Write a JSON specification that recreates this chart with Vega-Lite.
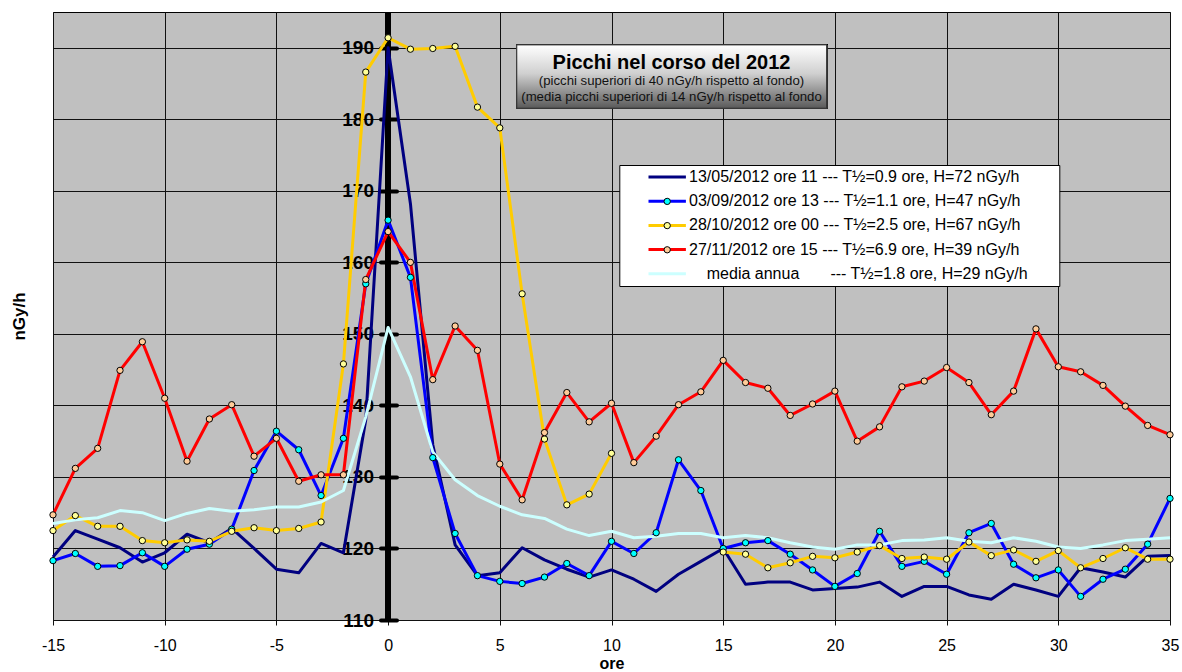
{
  "$schema": "https://vega.github.io/schema/vega-lite/v6.json",
  "autosize": {"type": "none"},
  "padding": {"left": 53, "top": 12, "right": 12, "bottom": 52},
  "width": 1117,
  "height": 608,
  "background": "#ffffff",
  "config": {
    "font": "Liberation Sans",
    "view": {"fill": "#C0C0C0", "stroke": "#000000", "strokeWidth": 1}
  },
  "title": {
    "text": "Picchi nel corso del 2012",
    "subtitle": ["(picchi superiori di 40 nGy/h rispetto al fondo)", "(media picchi superiori di 14 nGy/h rispetto al fondo"],
    "frame": "group",
    "anchor": "middle",
    "dx": 60,
    "offset": -93.5,
    "zindex": 1,
    "font": "Liberation Sans",
    "fontSize": 20,
    "fontWeight": "bold",
    "color": "#000000",
    "subtitleFont": "Liberation Sans",
    "subtitleFontSize": 13.2,
    "subtitleColor": "#111111",
    "subtitlePadding": 2,
    "subtitleLineHeight": 15.9
  },
  "data": {"values": [
    {"serie":"A","ora":-15,"nGy":118.8},{"serie":"A","ora":-14,"nGy":122.5},{"serie":"A","ora":-13,"nGy":121.3},{"serie":"A","ora":-12,"nGy":120.1},{"serie":"A","ora":-11,"nGy":118.1},{"serie":"A","ora":-10,"nGy":119.4},{"serie":"A","ora":-9,"nGy":122.0},{"serie":"A","ora":-8,"nGy":120.8},{"serie":"A","ora":-7,"nGy":122.8},{"serie":"A","ora":-6,"nGy":120.0},{"serie":"A","ora":-5,"nGy":117.1},{"serie":"A","ora":-4,"nGy":116.6},{"serie":"A","ora":-3,"nGy":120.7},{"serie":"A","ora":-2,"nGy":119.4},{"serie":"A","ora":-1,"nGy":138.0},
    {"serie":"A","ora":0,"nGy":190.0},{"serie":"A","ora":1,"nGy":168.2},{"serie":"A","ora":2,"nGy":134.5},{"serie":"A","ora":3,"nGy":120.5},{"serie":"A","ora":4,"nGy":116.2},{"serie":"A","ora":5,"nGy":116.6},{"serie":"A","ora":6,"nGy":120.1},{"serie":"A","ora":7,"nGy":118.4},{"serie":"A","ora":8,"nGy":117.1},{"serie":"A","ora":9,"nGy":116.0},{"serie":"A","ora":10,"nGy":117.0},
    {"serie":"A","ora":11,"nGy":115.7},{"serie":"A","ora":12,"nGy":114.0},{"serie":"A","ora":13,"nGy":116.4},{"serie":"A","ora":14,"nGy":118.2},{"serie":"A","ora":15,"nGy":120.0},{"serie":"A","ora":16,"nGy":115.0},{"serie":"A","ora":17,"nGy":115.3},{"serie":"A","ora":18,"nGy":115.3},{"serie":"A","ora":19,"nGy":114.2},{"serie":"A","ora":20,"nGy":114.4},
    {"serie":"A","ora":21,"nGy":114.6},{"serie":"A","ora":22,"nGy":115.3},{"serie":"A","ora":23,"nGy":113.3},{"serie":"A","ora":24,"nGy":114.7},{"serie":"A","ora":25,"nGy":114.7},{"serie":"A","ora":26,"nGy":113.5},{"serie":"A","ora":27,"nGy":112.9},{"serie":"A","ora":28,"nGy":115.0},{"serie":"A","ora":29,"nGy":114.2},{"serie":"A","ora":30,"nGy":113.3},
    {"serie":"A","ora":31,"nGy":117.3},{"serie":"A","ora":32,"nGy":116.7},{"serie":"A","ora":33,"nGy":116.0},{"serie":"A","ora":34,"nGy":118.9},{"serie":"A","ora":35,"nGy":119.0},

    {"serie":"B","ora":-15,"nGy":118.3},{"serie":"B","ora":-14,"nGy":119.3},{"serie":"B","ora":-13,"nGy":117.5},{"serie":"B","ora":-12,"nGy":117.6},{"serie":"B","ora":-11,"nGy":119.4},{"serie":"B","ora":-10,"nGy":117.5},{"serie":"B","ora":-9,"nGy":119.9},{"serie":"B","ora":-8,"nGy":120.6},{"serie":"B","ora":-7,"nGy":122.7},{"serie":"B","ora":-6,"nGy":130.9},{"serie":"B","ora":-5,"nGy":136.4},{"serie":"B","ora":-4,"nGy":133.8},{"serie":"B","ora":-3,"nGy":127.4},{"serie":"B","ora":-2,"nGy":135.4},{"serie":"B","ora":-1,"nGy":157.0},
    {"serie":"B","ora":0,"nGy":165.9},{"serie":"B","ora":1,"nGy":157.9},{"serie":"B","ora":2,"nGy":132.7},{"serie":"B","ora":3,"nGy":122.1},{"serie":"B","ora":4,"nGy":116.2},{"serie":"B","ora":5,"nGy":115.4},{"serie":"B","ora":6,"nGy":115.1},{"serie":"B","ora":7,"nGy":116.0},{"serie":"B","ora":8,"nGy":117.9},{"serie":"B","ora":9,"nGy":116.2},{"serie":"B","ora":10,"nGy":121.0},
    {"serie":"B","ora":11,"nGy":119.3},{"serie":"B","ora":12,"nGy":122.2},{"serie":"B","ora":13,"nGy":132.4},{"serie":"B","ora":14,"nGy":128.1},{"serie":"B","ora":15,"nGy":120.0},{"serie":"B","ora":16,"nGy":120.8},{"serie":"B","ora":17,"nGy":121.1},{"serie":"B","ora":18,"nGy":119.2},{"serie":"B","ora":19,"nGy":117.0},{"serie":"B","ora":20,"nGy":114.7},
    {"serie":"B","ora":21,"nGy":116.5},{"serie":"B","ora":22,"nGy":122.4},{"serie":"B","ora":23,"nGy":117.5},{"serie":"B","ora":24,"nGy":118.2},{"serie":"B","ora":25,"nGy":116.4},{"serie":"B","ora":26,"nGy":122.2},{"serie":"B","ora":27,"nGy":123.5},{"serie":"B","ora":28,"nGy":117.8},{"serie":"B","ora":29,"nGy":115.9},{"serie":"B","ora":30,"nGy":117.0},
    {"serie":"B","ora":31,"nGy":113.3},{"serie":"B","ora":32,"nGy":115.7},{"serie":"B","ora":33,"nGy":117.1},{"serie":"B","ora":34,"nGy":120.6},{"serie":"B","ora":35,"nGy":127.0},

    {"serie":"C","ora":-15,"nGy":122.5},{"serie":"C","ora":-14,"nGy":124.6},{"serie":"C","ora":-13,"nGy":123.1},{"serie":"C","ora":-12,"nGy":123.1},{"serie":"C","ora":-11,"nGy":121.1},{"serie":"C","ora":-10,"nGy":120.8},{"serie":"C","ora":-9,"nGy":121.2},{"serie":"C","ora":-8,"nGy":121.0},{"serie":"C","ora":-7,"nGy":122.4},{"serie":"C","ora":-6,"nGy":122.9},{"serie":"C","ora":-5,"nGy":122.5},{"serie":"C","ora":-4,"nGy":122.8},{"serie":"C","ora":-3,"nGy":123.7},{"serie":"C","ora":-2,"nGy":145.8},{"serie":"C","ora":-1,"nGy":186.6},
    {"serie":"C","ora":0,"nGy":191.4},{"serie":"C","ora":1,"nGy":189.8},{"serie":"C","ora":2,"nGy":189.9},{"serie":"C","ora":3,"nGy":190.2},{"serie":"C","ora":4,"nGy":181.7},{"serie":"C","ora":5,"nGy":178.8},{"serie":"C","ora":6,"nGy":155.6},{"serie":"C","ora":7,"nGy":135.3},{"serie":"C","ora":8,"nGy":126.1},{"serie":"C","ora":9,"nGy":127.6},{"serie":"C","ora":10,"nGy":133.3},
    {"serie":"C","ora":11,"nGy":null},{"serie":"C","ora":12,"nGy":null},{"serie":"C","ora":13,"nGy":null},{"serie":"C","ora":14,"nGy":null},{"serie":"C","ora":15,"nGy":119.5},{"serie":"C","ora":16,"nGy":119.2},{"serie":"C","ora":17,"nGy":117.3},{"serie":"C","ora":18,"nGy":118.0},{"serie":"C","ora":19,"nGy":118.9},{"serie":"C","ora":20,"nGy":118.7},
    {"serie":"C","ora":21,"nGy":119.5},{"serie":"C","ora":22,"nGy":120.4},{"serie":"C","ora":23,"nGy":118.6},{"serie":"C","ora":24,"nGy":118.8},{"serie":"C","ora":25,"nGy":118.5},{"serie":"C","ora":26,"nGy":120.9},{"serie":"C","ora":27,"nGy":119.0},{"serie":"C","ora":28,"nGy":119.8},{"serie":"C","ora":29,"nGy":118.2},{"serie":"C","ora":30,"nGy":119.7},
    {"serie":"C","ora":31,"nGy":117.3},{"serie":"C","ora":32,"nGy":118.6},{"serie":"C","ora":33,"nGy":120.1},{"serie":"C","ora":34,"nGy":118.5},{"serie":"C","ora":35,"nGy":118.5},

    {"serie":"D","ora":-15,"nGy":124.7},{"serie":"D","ora":-14,"nGy":131.2},{"serie":"D","ora":-13,"nGy":134.0},{"serie":"D","ora":-12,"nGy":144.9},{"serie":"D","ora":-11,"nGy":148.9},{"serie":"D","ora":-10,"nGy":141.0},{"serie":"D","ora":-9,"nGy":132.2},{"serie":"D","ora":-8,"nGy":138.1},{"serie":"D","ora":-7,"nGy":140.1},{"serie":"D","ora":-6,"nGy":132.9},{"serie":"D","ora":-5,"nGy":135.4},{"serie":"D","ora":-4,"nGy":129.4},{"serie":"D","ora":-3,"nGy":130.3},{"serie":"D","ora":-2,"nGy":130.3},{"serie":"D","ora":-1,"nGy":157.6},
    {"serie":"D","ora":0,"nGy":164.3},{"serie":"D","ora":1,"nGy":160.0},{"serie":"D","ora":2,"nGy":143.6},{"serie":"D","ora":3,"nGy":151.1},{"serie":"D","ora":4,"nGy":147.7},{"serie":"D","ora":5,"nGy":131.8},{"serie":"D","ora":6,"nGy":126.8},{"serie":"D","ora":7,"nGy":136.2},{"serie":"D","ora":8,"nGy":141.8},{"serie":"D","ora":9,"nGy":137.7},{"serie":"D","ora":10,"nGy":140.3},
    {"serie":"D","ora":11,"nGy":132.0},{"serie":"D","ora":12,"nGy":135.7},{"serie":"D","ora":13,"nGy":140.1},{"serie":"D","ora":14,"nGy":141.9},{"serie":"D","ora":15,"nGy":146.3},{"serie":"D","ora":16,"nGy":143.2},{"serie":"D","ora":17,"nGy":142.4},{"serie":"D","ora":18,"nGy":138.6},{"serie":"D","ora":19,"nGy":140.2},{"serie":"D","ora":20,"nGy":142.0},
    {"serie":"D","ora":21,"nGy":135.0},{"serie":"D","ora":22,"nGy":137.0},{"serie":"D","ora":23,"nGy":142.6},{"serie":"D","ora":24,"nGy":143.4},{"serie":"D","ora":25,"nGy":145.3},{"serie":"D","ora":26,"nGy":143.2},{"serie":"D","ora":27,"nGy":138.7},{"serie":"D","ora":28,"nGy":142.0},{"serie":"D","ora":29,"nGy":150.7},{"serie":"D","ora":30,"nGy":145.4},
    {"serie":"D","ora":31,"nGy":144.7},{"serie":"D","ora":32,"nGy":142.8},{"serie":"D","ora":33,"nGy":139.9},{"serie":"D","ora":34,"nGy":137.2},{"serie":"D","ora":35,"nGy":135.9},

    {"serie":"E","ora":-15,"nGy":123.5},{"serie":"E","ora":-14,"nGy":124.0},{"serie":"E","ora":-13,"nGy":124.3},{"serie":"E","ora":-12,"nGy":125.3},{"serie":"E","ora":-11,"nGy":125.0},{"serie":"E","ora":-10,"nGy":123.9},{"serie":"E","ora":-9,"nGy":124.9},{"serie":"E","ora":-8,"nGy":125.6},{"serie":"E","ora":-7,"nGy":125.2},{"serie":"E","ora":-6,"nGy":125.4},{"serie":"E","ora":-5,"nGy":125.8},{"serie":"E","ora":-4,"nGy":125.8},{"serie":"E","ora":-3,"nGy":126.5},{"serie":"E","ora":-2,"nGy":128.1},{"serie":"E","ora":-1,"nGy":138.4},
    {"serie":"E","ora":0,"nGy":150.9},{"serie":"E","ora":1,"nGy":144.0},{"serie":"E","ora":2,"nGy":133.5},{"serie":"E","ora":3,"nGy":129.6},{"serie":"E","ora":4,"nGy":127.4},{"serie":"E","ora":5,"nGy":125.9},{"serie":"E","ora":6,"nGy":124.7},{"serie":"E","ora":7,"nGy":124.2},{"serie":"E","ora":8,"nGy":122.7},{"serie":"E","ora":9,"nGy":121.8},{"serie":"E","ora":10,"nGy":122.4},
    {"serie":"E","ora":11,"nGy":121.5},{"serie":"E","ora":12,"nGy":121.7},{"serie":"E","ora":13,"nGy":122.1},{"serie":"E","ora":14,"nGy":122.1},{"serie":"E","ora":15,"nGy":121.5},{"serie":"E","ora":16,"nGy":121.8},{"serie":"E","ora":17,"nGy":121.5},{"serie":"E","ora":18,"nGy":120.8},{"serie":"E","ora":19,"nGy":120.2},{"serie":"E","ora":20,"nGy":119.9},
    {"serie":"E","ora":21,"nGy":120.5},{"serie":"E","ora":22,"nGy":120.5},{"serie":"E","ora":23,"nGy":121.1},{"serie":"E","ora":24,"nGy":121.2},{"serie":"E","ora":25,"nGy":121.5},{"serie":"E","ora":26,"nGy":121.0},{"serie":"E","ora":27,"nGy":120.8},{"serie":"E","ora":28,"nGy":121.5},{"serie":"E","ora":29,"nGy":121.0},{"serie":"E","ora":30,"nGy":120.2},
    {"serie":"E","ora":31,"nGy":120.0},{"serie":"E","ora":32,"nGy":120.5},{"serie":"E","ora":33,"nGy":121.1},{"serie":"E","ora":34,"nGy":121.3},{"serie":"E","ora":35,"nGy":121.5}
  ]},
  "layer": [
    {
      "mark": {"type": "rule", "color": "#000000", "strokeWidth": 5},
      "encoding": {"x": {"datum": 0}}
    },
    {
      "mark": {"type": "line", "strokeJoin": "round"},
      "encoding": {
        "x": {
          "field": "ora", "type": "quantitative",
          "scale": {"domain": [-15, 35], "nice": false, "zero": false},
          "axis": {
            "title": "ore",
            "values": [-15, -10, -5, 0, 5, 10, 15, 20, 25, 30, 35],
            "labelExpr": "'' + datum.value",
            "grid": true, "gridColor": "#111111", "gridWidth": 1,
            "domain": false,
            "ticks": true, "tickSize": 5, "tickColor": "#111111", "tickWidth": 1,
            "labelFont": "Liberation Sans", "labelFontSize": 16, "labelColor": "#000000", "labelBaseline": "alphabetic", "labelPadding": 25, "labelFlush": false,
            "titleFont": "Liberation Sans", "titleFontSize": 16, "titleFontWeight": "bold", "titleColor": "#000000",
            "titleBaseline": "alphabetic", "titleY": 48.8
          }
        },
        "y": {
          "field": "nGy", "type": "quantitative",
          "scale": {"domain": [110, 195], "nice": false, "zero": false},
          "axis": {
            "title": "nGy/h",
            "values": [110, 120, 130, 140, 150, 160, 170, 180, 190],
            "offset": -343.5,
            "grid": true, "gridColor": "#111111", "gridWidth": 1,
            "domain": false,
            "ticks": true, "tickSize": 16, "tickWidth": 4, "tickColor": "#000000", "tickCap": "round",
            "labelFont": "Liberation Sans", "labelFontSize": 19, "labelFontWeight": "bold", "labelColor": "#000000", "labelPadding": 7,
            "titleFont": "Liberation Sans", "titleFontSize": 17, "titleFontWeight": "bold", "titleColor": "#000000",
            "titleAngle": 270, "titleAlign": "center", "titleBaseline": "middle", "titleX": -377.5, "titleY": 304
          }
        },
        "color": {
          "field": "serie", "type": "nominal",
          "scale": {"domain": ["A", "B", "C", "D", "E"], "range": ["#000080", "#0000FF", "#FFCC00", "#FF0000", "#CCFFFF"]},
          "legend": {
            "orient": "none", "legendX": 566.3, "legendY": 153,
            "title": null,
            "fillColor": "#ffffff", "strokeColor": "#000000", "padding": 4,
            "labelFont": "Liberation Sans", "labelFontSize": 16, "labelColor": "#000000", "labelLimit": 600,
            "rowPadding": 8.2, "symbolType": "M-3.4,0H3.4", "symbolSize": 121, "symbolStrokeWidth": 3, "symbolOffset": 35.9, "labelOffset": 13.8,
            "labelExpr": "datum.value === 'A' ? '13/05/2012 ore 11 --- T½=0.9 ore, H=72 nGy/h' : datum.value === 'B' ? '03/09/2012 ore 13 --- T½=1.1 ore, H=47 nGy/h' : datum.value === 'C' ? '28/10/2012 ore 00 --- T½=2.5 ore, H=67 nGy/h' : datum.value === 'D' ? '27/11/2012 ore 15 --- T½=6.9 ore, H=39 nGy/h' : '\u200b\u00a0\u00a0\u00a0\u00a0media annua\u00a0\u00a0\u00a0\u00a0\u00a0\u00a0\u00a0--- T½=1.8 ore, H=29 nGy/h\u00a0\u00a0\u00a0\u00a0\u00a0\u00a0\u200b'"
          }
        },
        "strokeWidth": {
          "field": "serie", "type": "ordinal",
          "scale": {"domain": ["A", "B", "C", "D", "E"], "range": [3, 3, 3.5, 3, 5]},
          "legend": {
            "orient": "none", "legendX": 566.3, "legendY": 153,
            "title": null,
            "fillColor": "#ffffff", "strokeColor": "#000000", "padding": 4,
            "labelFont": "Liberation Sans", "labelFontSize": 16, "labelColor": "#000000", "labelLimit": 600,
            "rowPadding": 8.2, "symbolType": "M-3.4,0H3.4", "symbolSize": 121, "symbolOffset": 35.9, "labelOffset": 13.8,
            "labelExpr": "datum.value === 'A' ? '13/05/2012 ore 11 --- T½=0.9 ore, H=72 nGy/h' : datum.value === 'B' ? '03/09/2012 ore 13 --- T½=1.1 ore, H=47 nGy/h' : datum.value === 'C' ? '28/10/2012 ore 00 --- T½=2.5 ore, H=67 nGy/h' : datum.value === 'D' ? '27/11/2012 ore 15 --- T½=6.9 ore, H=39 nGy/h' : '\u200b\u00a0\u00a0\u00a0\u00a0media annua\u00a0\u00a0\u00a0\u00a0\u00a0\u00a0\u00a0--- T½=1.8 ore, H=29 nGy/h\u00a0\u00a0\u00a0\u00a0\u00a0\u00a0\u200b'"
          }
        }
      }
    },
    {
      "transform": [{"filter": "datum.serie === 'B' || datum.serie === 'C' || datum.serie === 'D'"}],
      "mark": {"type": "point", "filled": true, "size": 40, "stroke": "#000000", "strokeWidth": 1, "opacity": 1},
      "encoding": {
        "x": {"field": "ora", "type": "quantitative"},
        "y": {"field": "nGy", "type": "quantitative"},
        "fill": {
          "field": "serie", "type": "nominal",
          "scale": {"domain": ["B", "C", "D"], "range": ["#00FFFF", "#FFFF99", "#FFCC99"]},
          "legend": {
            "orient": "none", "legendX": 566.3, "legendY": 177.4,
            "title": null, "padding": 4, "zindex": 1,
            "labelFont": "Liberation Sans", "labelFontSize": 16, "labelExpr": "''",
            "rowPadding": 8.2, "symbolType": "circle", "symbolSize": 40,
            "symbolStrokeColor": "#000000", "symbolStrokeWidth": 1, "symbolOpacity": 1,
            "symbolOffset": 35.9, "labelOffset": 0
          }
        }
      }
    },
    {
      "mark": {
        "type": "rect",
        "fill": {"gradient": "linear", "x1": 0, "y1": 0, "x2": 0, "y2": 1, "stops": [{"offset": 0, "color": "#ffffff"}, {"offset": 0.45, "color": "#d0d0d0"}, {"offset": 1, "color": "#5a5a5a"}]},
        "stroke": "#333333", "strokeWidth": 1
      },
      "encoding": {
        "x": {"datum": 5.76}, "x2": {"datum": 19.63},
        "y": {"datum": 190.4}, "y2": {"datum": 181.55}
      }
    }
  ]
}
